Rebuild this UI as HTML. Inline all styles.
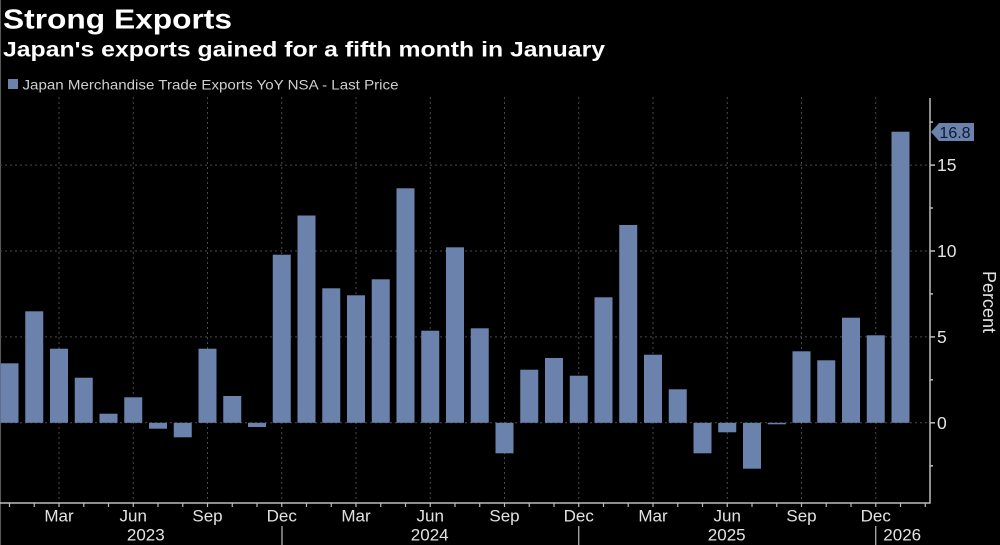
<!DOCTYPE html>
<html>
<head>
<meta charset="utf-8">
<style>
html,body{margin:0;padding:0;background:#000;}
body{width:1000px;height:545px;overflow:hidden;}
svg{display:block;}
text{font-family:"Liberation Sans",sans-serif;}
</style>
</head>
<body>
<svg width="1000" height="545" viewBox="0 0 1000 545" xmlns="http://www.w3.org/2000/svg">
<rect x="0" y="0" width="1000" height="545" fill="#000"/>
<line x1="0.5" y1="0" x2="0.5" y2="545" stroke="#5a5a5a" stroke-width="1"/>

<!-- Titles -->
<text x="3" y="28.5" font-size="28" font-weight="bold" fill="#ffffff" textLength="229" lengthAdjust="spacingAndGlyphs">Strong Exports</text>
<text x="3" y="56.5" font-size="21" font-weight="bold" fill="#ffffff" textLength="602" lengthAdjust="spacingAndGlyphs">Japan's exports gained for a fifth month in January</text>

<!-- Legend -->
<rect x="8" y="79" width="10" height="10" fill="#6b82ad"/>
<text x="22.5" y="89.3" font-size="14" fill="#cfcfcf" textLength="376" lengthAdjust="spacingAndGlyphs">Japan Merchandise Trade Exports YoY NSA - Last Price</text>

<!-- Horizontal gridlines -->
<g stroke="#4a4a4a" stroke-width="1" stroke-dasharray="2,3">
<line x1="0" y1="422.8" x2="930" y2="422.8"/>
<line x1="0" y1="336.9" x2="930" y2="336.9"/>
<line x1="0" y1="251" x2="930" y2="251"/>
<line x1="0" y1="165.1" x2="930" y2="165.1"/>
</g>
<!-- Vertical gridlines (Mar/Jun/Sep/Dec) -->
<g stroke="#4a4a4a" stroke-width="1" stroke-dasharray="2,3">
<line x1="59" y1="97" x2="59" y2="503"/>
<line x1="133.25" y1="97" x2="133.25" y2="503"/>
<line x1="207.5" y1="97" x2="207.5" y2="503"/>
<line x1="281.75" y1="97" x2="281.75" y2="503"/>
<line x1="356" y1="97" x2="356" y2="503"/>
<line x1="430.25" y1="97" x2="430.25" y2="503"/>
<line x1="504.5" y1="97" x2="504.5" y2="503"/>
<line x1="578.75" y1="97" x2="578.75" y2="503"/>
<line x1="653" y1="97" x2="653" y2="503"/>
<line x1="727.25" y1="97" x2="727.25" y2="503"/>
<line x1="801.5" y1="97" x2="801.5" y2="503"/>
<line x1="875.75" y1="97" x2="875.75" y2="503"/>
</g>

<!-- Bars -->
<g fill="#6b82ad">
<rect x="0.5" y="363.3" width="18" height="59.5"/>
<rect x="25.25" y="311.3" width="18" height="111.5"/>
<rect x="50" y="348.7" width="18" height="74.1"/>
<rect x="74.75" y="377.7" width="18" height="45.1"/>
<rect x="99.5" y="413.7" width="18" height="9.1"/>
<rect x="124.25" y="397.3" width="18" height="25.5"/>
<rect x="149" y="422.8" width="18" height="5.9"/>
<rect x="173.75" y="422.8" width="18" height="14.5"/>
<rect x="198.5" y="348.7" width="18" height="74.1"/>
<rect x="223.25" y="396" width="18" height="26.8"/>
<rect x="248" y="422.8" width="18" height="4.2"/>
<rect x="272.75" y="254.7" width="18" height="168.1"/>
<rect x="297.5" y="215.5" width="18" height="207.3"/>
<rect x="322.25" y="288.3" width="18" height="134.5"/>
<rect x="347" y="295.3" width="18" height="127.5"/>
<rect x="371.75" y="279.3" width="18" height="143.5"/>
<rect x="396.5" y="188.3" width="18" height="234.5"/>
<rect x="421.25" y="330.7" width="18" height="92.1"/>
<rect x="446" y="247.3" width="18" height="175.5"/>
<rect x="470.75" y="328.3" width="18" height="94.5"/>
<rect x="495.5" y="422.8" width="18" height="30.5"/>
<rect x="520.25" y="369.7" width="18" height="53.1"/>
<rect x="545" y="358" width="18" height="64.8"/>
<rect x="569.75" y="375.7" width="18" height="47.1"/>
<rect x="594.5" y="297.3" width="18" height="125.5"/>
<rect x="619.25" y="225" width="18" height="197.8"/>
<rect x="644" y="354.7" width="18" height="68.1"/>
<rect x="668.75" y="389.3" width="18" height="33.5"/>
<rect x="693.5" y="422.8" width="18" height="30.5"/>
<rect x="718.25" y="422.8" width="18" height="9.5"/>
<rect x="743" y="422.8" width="18" height="45.9"/>
<rect x="767.75" y="422.8" width="18" height="1.5"/>
<rect x="792.5" y="351.3" width="18" height="71.5"/>
<rect x="817.25" y="360.3" width="18" height="62.5"/>
<rect x="842" y="317.7" width="18" height="105.1"/>
<rect x="866.75" y="335.3" width="18" height="87.5"/>
<rect x="891.5" y="131.7" width="18" height="291.1"/>
</g>

<!-- Axes -->
<g stroke="#bdbdbd" stroke-width="1.5" fill="none">
<line x1="930" y1="98" x2="930" y2="503.5"/>
<line x1="0" y1="503" x2="930.5" y2="503"/>
</g>
<!-- Y ticks -->
<g stroke="#bdbdbd" stroke-width="1.5">
<line x1="930" y1="422.8" x2="935" y2="422.8"/>
<line x1="930" y1="336.9" x2="935" y2="336.9"/>
<line x1="930" y1="251" x2="935" y2="251"/>
<line x1="930" y1="165.1" x2="935" y2="165.1"/>
<line x1="930" y1="465.8" x2="933" y2="465.8"/>
<line x1="930" y1="379.8" x2="933" y2="379.8"/>
<line x1="930" y1="293.9" x2="933" y2="293.9"/>
<line x1="930" y1="208" x2="933" y2="208"/>
<line x1="930" y1="122.1" x2="933" y2="122.1"/>
</g>
<!-- X ticks -->
<g stroke="#bdbdbd" stroke-width="1.2">
<line x1="9.5" y1="503" x2="9.5" y2="507"/>
<line x1="34.25" y1="503" x2="34.25" y2="507"/>
<line x1="59" y1="503" x2="59" y2="507"/>
<line x1="83.75" y1="503" x2="83.75" y2="507"/>
<line x1="108.5" y1="503" x2="108.5" y2="507"/>
<line x1="133.25" y1="503" x2="133.25" y2="507"/>
<line x1="158" y1="503" x2="158" y2="507"/>
<line x1="182.75" y1="503" x2="182.75" y2="507"/>
<line x1="207.5" y1="503" x2="207.5" y2="507"/>
<line x1="232.25" y1="503" x2="232.25" y2="507"/>
<line x1="257" y1="503" x2="257" y2="507"/>
<line x1="281.75" y1="503" x2="281.75" y2="507"/>
<line x1="306.5" y1="503" x2="306.5" y2="507"/>
<line x1="331.25" y1="503" x2="331.25" y2="507"/>
<line x1="356" y1="503" x2="356" y2="507"/>
<line x1="380.75" y1="503" x2="380.75" y2="507"/>
<line x1="405.5" y1="503" x2="405.5" y2="507"/>
<line x1="430.25" y1="503" x2="430.25" y2="507"/>
<line x1="455" y1="503" x2="455" y2="507"/>
<line x1="479.75" y1="503" x2="479.75" y2="507"/>
<line x1="504.5" y1="503" x2="504.5" y2="507"/>
<line x1="529.25" y1="503" x2="529.25" y2="507"/>
<line x1="554" y1="503" x2="554" y2="507"/>
<line x1="578.75" y1="503" x2="578.75" y2="507"/>
<line x1="603.5" y1="503" x2="603.5" y2="507"/>
<line x1="628.25" y1="503" x2="628.25" y2="507"/>
<line x1="653" y1="503" x2="653" y2="507"/>
<line x1="677.75" y1="503" x2="677.75" y2="507"/>
<line x1="702.5" y1="503" x2="702.5" y2="507"/>
<line x1="727.25" y1="503" x2="727.25" y2="507"/>
<line x1="752" y1="503" x2="752" y2="507"/>
<line x1="776.75" y1="503" x2="776.75" y2="507"/>
<line x1="801.5" y1="503" x2="801.5" y2="507"/>
<line x1="826.25" y1="503" x2="826.25" y2="507"/>
<line x1="851" y1="503" x2="851" y2="507"/>
<line x1="875.75" y1="503" x2="875.75" y2="507"/>
<line x1="900.5" y1="503" x2="900.5" y2="507"/>
<line x1="925.25" y1="503" x2="925.25" y2="507"/>
</g>
<!-- Year separators -->
<g stroke="#bdbdbd" stroke-width="1.2">
<line x1="282" y1="526" x2="282" y2="545"/>
<line x1="578.75" y1="526" x2="578.75" y2="545"/>
<line x1="875.75" y1="526" x2="875.75" y2="545"/>
</g>

<!-- Y labels -->
<g font-size="17.5" fill="#e2e2e2">
<text x="937" y="429">0</text>
<text x="937" y="343">5</text>
<text x="937" y="257">10</text>
<text x="937" y="171">15</text>
</g>

<!-- Last value label -->
<path d="M931,132 L939,123 L974,123 L974,141 L939,141 Z" fill="#6b82ad"/>
<text x="955" y="138" font-size="16" fill="#0d1a33" text-anchor="middle">16.8</text>

<!-- Percent -->
<text x="0" y="0" font-size="18" fill="#e2e2e2" text-anchor="middle" transform="translate(983,302) rotate(90)">Percent</text>

<!-- Month labels -->
<g font-size="17" fill="#e2e2e2" text-anchor="middle">
<text x="59" y="521.7">Mar</text>
<text x="133.25" y="521.7">Jun</text>
<text x="207.5" y="521.7">Sep</text>
<text x="281.75" y="521.7">Dec</text>
<text x="356" y="521.7">Mar</text>
<text x="430.25" y="521.7">Jun</text>
<text x="504.5" y="521.7">Sep</text>
<text x="578.75" y="521.7">Dec</text>
<text x="653" y="521.7">Mar</text>
<text x="727.25" y="521.7">Jun</text>
<text x="801.5" y="521.7">Sep</text>
<text x="875.75" y="521.7">Dec</text>
</g>
<!-- Year labels -->
<g font-size="17" fill="#e2e2e2" text-anchor="middle">
<text x="145.8" y="540.5">2023</text>
<text x="429.7" y="540.5">2024</text>
<text x="726.7" y="540.5">2025</text>
<text x="902.2" y="540.5">2026</text>
</g>
</svg>
</body>
</html>
